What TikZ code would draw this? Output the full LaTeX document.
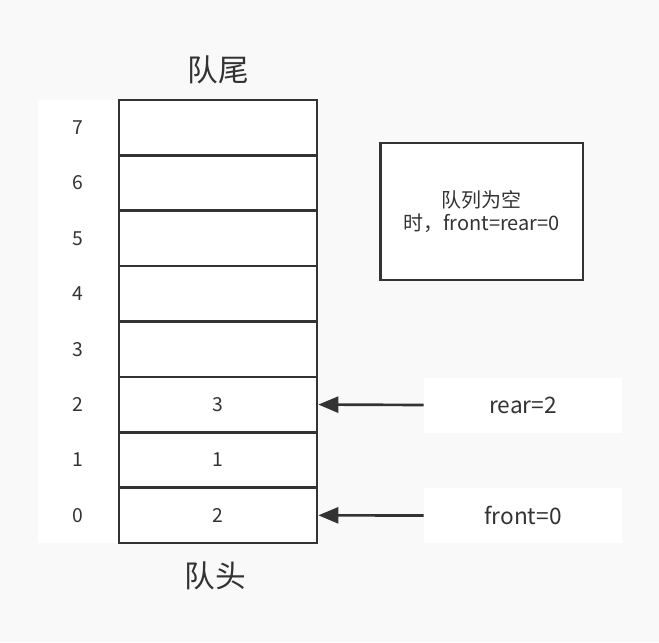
\documentclass[tikz,border=0pt]{standalone}
\usepackage{fontspec}
\setmainfont{Noto Sans CJK SC}
\usetikzlibrary{arrows.meta}
\definecolor{fond}{RGB}{249,249,249}
\definecolor{trait}{RGB}{51,51,51}
\begin{document}
\begin{tikzpicture}[x=0.75pt,y=-0.75pt,
  case/.style={draw=trait,line width=2pt,fill=white,text=trait,inner sep=0pt,
    minimum width=148.5pt,minimum height=41.5pt,font=\fontsize{14.5}{16}\selectfont},
  indice/.style={text=trait,font=\fontsize{14.5}{16}\selectfont},
  titre/.style={text=trait,font=\fontsize{23}{26}\selectfont},
  etiquette/.style={fill=white,text=trait,inner sep=0pt,
    minimum width=148.5pt,minimum height=41.25pt,font=\fontsize{17}{20}\selectfont},
  fleche/.style={-{Triangle[length=15pt,width=12pt]},draw=trait,line width=2pt}]

% Fond
\fill[fond] (0,0) rectangle (659,642);
\fill[white] (38,100) rectangle (118,543);

% Cases et indices
\foreach \i/\val in {0/2,1/1,2/3,3/{},4/{},5/{},6/{},7/{}} {
  \node[case] (c\i) at (218,{515.3-55.375*\i}) {\val};
  \node[indice] (i\i) at (78,{515.3-55.375*\i}) {\i};
}

% Titres
\node[titre] (queue) at (218,70) {队尾};
\node[titre] (tete) at (215,576) {队头};

% Remarque
\node[draw=trait,line width=2pt,fill=white,text=trait,align=center,inner sep=0pt,
  minimum width=152pt,minimum height=102.75pt,font=\fontsize{15}{17.25}\selectfont]
  (note) at (481.5,211.5) {队列为空\\时，front=rear=0};

% Pointeurs
\node[etiquette] (rear) at (523,405) {rear=2};
\node[etiquette] (front) at (523,515.5) {front=0};
\draw[fleche] (rear.west) -- (c2.east);
\draw[fleche] (front.west) -- (c0.east);
\end{tikzpicture}
\end{document}
